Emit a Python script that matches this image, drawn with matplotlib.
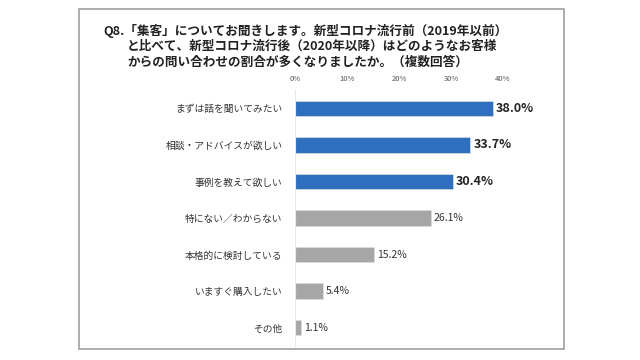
import matplotlib
matplotlib.use('Agg')
import matplotlib.pyplot as plt
from matplotlib.patches import Rectangle

plt.rcParams['font.family'] = ['Noto Sans CJK JP', 'DejaVu Sans']

categories = ['まずは話を聞いてみたい', '相談・アドバイスが欲しい', '事例を教えて欲しい',
              '特にない／わからない', '本格的に検討している', 'いますぐ購入したい', 'その他']
values = [38.0, 33.7, 30.4, 26.1, 15.2, 5.4, 1.1]
highlight = [True, True, True, False, False, False, False]
ticks = [0, 10, 20, 30, 40]
tick_labels = ['0%', '10%', '20%', '30%', '40%']
title_lines = ['Q8.「集客」についてお聞きします。新型コロナ流行前（2019年以前）',
               'と比べて、新型コロナ流行後（2020年以降）はどのようなお客様',
               'からの問い合わせの割合が多くなりましたか。（複数回答）']

blue = '#2E70BE'
gray = '#A6A6A6'

fig = plt.figure(figsize=(6.4, 3.6), dpi=100)
fig.patch.set_facecolor('white')

# outer frame
fig.patches.append(Rectangle((79 / 640, 1 - 349 / 360), (564 - 79) / 640, (349 - 9) / 360,
                             transform=fig.transFigure, fill=False,
                             edgecolor='#A0A0A0', linewidth=1.2))

# title
fig.text(103 / 640, 1 - 31 / 360, title_lines[0], fontsize=9.1, fontweight='bold',
         va='center', ha='left', color='#222222')
fig.text(127 / 640, 1 - 46 / 360, title_lines[1], fontsize=9.1, fontweight='bold',
         va='center', ha='left', color='#222222')
fig.text(127 / 640, 1 - 62 / 360, title_lines[2], fontsize=9.1, fontweight='bold',
         va='center', ha='left', color='#222222')

ax = fig.add_axes([295 / 640, 14 / 360, (503 - 295) / 640, (270 - 14) / 360])
y = list(range(len(categories)))
colors = [blue if h else gray for h in highlight]
ax.barh(y, values, height=0.42, color=colors, edgecolor='#DDDDDD', linewidth=0.5)
ax.set_ylim(len(categories) - 0.5, -0.5)
ax.set_xlim(0, 40)
ax.set_yticks(y)
ax.set_yticklabels(categories, fontsize=7, color='#333333')
ax.set_xticks(ticks)
ax.set_xticklabels(tick_labels, fontsize=5.5, color='#555555')
ax.xaxis.tick_top()
ax.tick_params(axis='both', length=0)
ax.tick_params(axis='x', pad=5)
ax.tick_params(axis='y', pad=9)
for s in ['top', 'right', 'bottom']:
    ax.spines[s].set_visible(False)
ax.spines['left'].set_color('#E8E8E8')
ax.spines['left'].set_linewidth(0.8)

for yi, v, h in zip(y, values, highlight):
    if h:
        ax.text(v + 0.6, yi, f'{v:.1f}%', va='center', ha='left', fontsize=9,
                fontweight='bold', color='#222222')
    else:
        ax.text(v + 0.6, yi, f'{v:.1f}%', va='center', ha='left', fontsize=7.5,
                color='#333333')

fig.savefig('out.png', dpi=100, facecolor='white')
